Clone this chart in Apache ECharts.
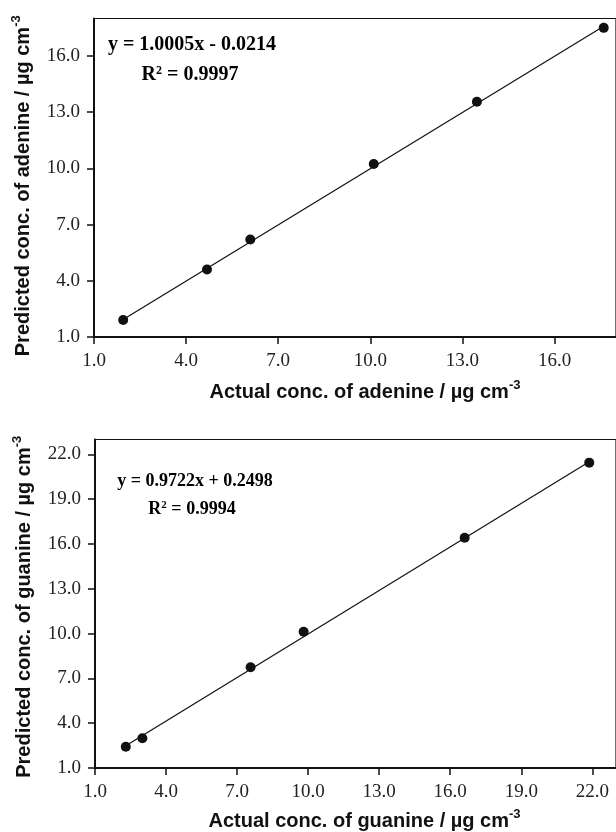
<!DOCTYPE html>
<html>
<head>
<meta charset="utf-8">
<script src="https://cdn.jsdelivr.net/npm/echarts@6/dist/echarts.min.js"></script>
<style>
  html, body { margin: 0; padding: 0; background: #fff; }
  #chart { width: 616px; height: 832px; }
</style>
</head>
<body>
<div id="chart"></div>
<script>
// adenine calibration (top panel)
var adenineActual = [1.95, 4.68, 6.09, 10.11, 13.47, 17.60]
var adeninePredicted = [1.91, 4.60, 6.20, 10.23, 13.56, 17.50]
var adenineFitX = [1.95, 17.60]
var adenineFitY = [1.93, 17.59]
var adenineTicks = [1, 4, 7, 10, 13, 16]

// guanine calibration (bottom panel)
var guanineActual = [2.30, 3.00, 7.57, 9.81, 16.61, 21.87]
var guaninePredicted = [2.42, 2.99, 7.75, 10.12, 16.42, 21.45]
var guanineFitX = [2.30, 21.87]
var guanineFitY = [2.49, 21.51]
var guanineTicks = [1, 4, 7, 10, 13, 16, 19, 22]

function pairs(xs, ys) {
  return xs.map(function (x, i) { return [x, ys[i]] })
}

var serif = 'Liberation Serif'
var sans = 'Liberation Sans'

var nameRich = {
  b: { fontFamily: sans, fontWeight: 'bold', fontSize: 20, color: '#111', lineHeight: 26 },
  s: { fontFamily: sans, fontWeight: 'bold', fontSize: 13, color: '#111', verticalAlign: 'top', lineHeight: 13 }
}

function axis(gridIndex, max, ticks, name, gap, isY, pad) {
  return {
    type: 'value',
    gridIndex: gridIndex,
    min: 1,
    max: max,
    interval: 3,
    name: name,
    nameLocation: 'middle',
    nameGap: gap,
    nameTextStyle: { rich: nameRich, padding: pad },
    axisLine: { show: true, onZero: false, lineStyle: { color: '#111', width: 2 } },
    axisTick: { show: true, inside: false, length: 7, customValues: ticks, lineStyle: { color: '#111', width: 1.5 } },
    axisLabel: {
      customValues: ticks,
      margin: isY ? 14 : 15,
      fontFamily: serif,
      fontSize: 19,
      color: '#222',
      formatter: function (v) { return v.toFixed(1) }
    },
    splitLine: { show: false }
  }
}

var eqRich = {
  b: { fontFamily: serif, fontWeight: 'bold', fontSize: 20, color: '#111' },
  s: { fontFamily: serif, fontWeight: 'bold', fontSize: 12, color: '#111', verticalAlign: 'top' }
}
var eqRich2 = {
  b: { fontFamily: serif, fontWeight: 'bold', fontSize: 18, color: '#111' },
  s: { fontFamily: serif, fontWeight: 'bold', fontSize: 11, color: '#111', verticalAlign: 'top' }
}

function eqText(x, y, text, rich) {
  return {
    type: 'text',
    x: x,
    y: y,
    style: { text: text, rich: rich, align: 'center', verticalAlign: 'middle' }
  }
}

var chart = echarts.init(document.getElementById('chart'))
chart.setOption({
  animation: false,
  backgroundColor: '#fff',
  grid: [
    { left: 94, top: 18.5, width: 524.5, height: 318.5, show: true, borderColor: '#111', borderWidth: 1.2, containLabel: false },
    { left: 95, top: 439.5, width: 531, height: 331.5, show: true, borderColor: '#111', borderWidth: 1.2, containLabel: false }
  ],
  xAxis: [
    axis(0, 18, adenineTicks, '{b|Actual conc. of adenine / µg cm}{s|-3}', 42, false, [0, 0, 0, 20]),
    axis(1, 23, guanineTicks, '{b|Actual conc. of guanine / µg cm}{s|-3}', 40, false, [0, 0, 0, 18])
  ],
  yAxis: [
    axis(0, 18, adenineTicks, '{b|Predicted conc. of adenine / µg cm}{s|-3}', 58, true, [0, 16, 0, 0]),
    axis(1, 23, guanineTicks, '{b|Predicted conc. of guanine / µg cm}{s|-3}', 58, true, [0, 6, 0, 0])
  ],
  graphic: [
    eqText(192, 45, '{b|y = 1.0005x - 0.0214}', eqRich),
    eqText(190, 75, '{b|R}{s|2}{b| = 0.9997}', eqRich),
    eqText(195, 481, '{b|y = 0.9722x + 0.2498}', eqRich2),
    eqText(192, 509, '{b|R}{s|2}{b| = 0.9994}', eqRich2)
  ],
  series: [
    {
      type: 'line', xAxisIndex: 0, yAxisIndex: 0,
      data: pairs(adenineFitX, adenineFitY),
      showSymbol: false, lineStyle: { color: '#111', width: 1.2 }
    },
    {
      type: 'scatter', xAxisIndex: 0, yAxisIndex: 0,
      data: pairs(adenineActual, adeninePredicted),
      symbolSize: 10, itemStyle: { color: '#111', opacity: 1 }
    },
    {
      type: 'line', xAxisIndex: 1, yAxisIndex: 1,
      data: pairs(guanineFitX, guanineFitY),
      showSymbol: false, lineStyle: { color: '#111', width: 1.2 }
    },
    {
      type: 'scatter', xAxisIndex: 1, yAxisIndex: 1,
      data: pairs(guanineActual, guaninePredicted),
      symbolSize: 10, itemStyle: { color: '#111', opacity: 1 }
    }
  ]
})
</script>
</body>
</html>
